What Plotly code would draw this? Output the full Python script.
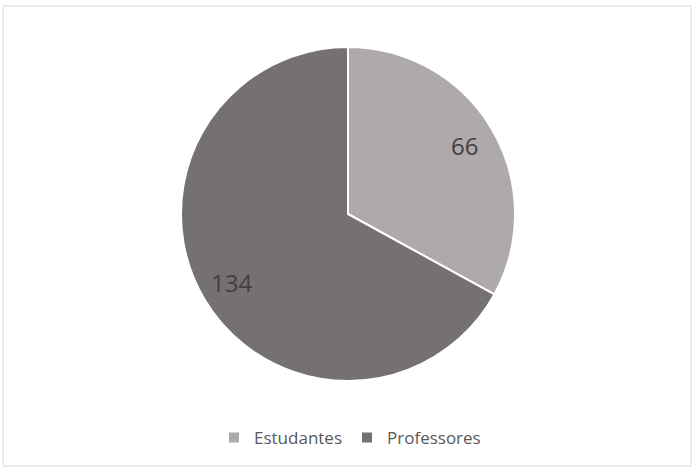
import math
import plotly.graph_objects as go

labels = ["Estudantes", "Professores"]
values = [66, 134]
colors = ["#AEAAAA", "#767171"]

W, H = 700, 470
cx, cy, r = 348, 214, 167  # pie centre and radius in pixels

fig = go.Figure(go.Pie(
    labels=labels, values=values, sort=False, direction="clockwise", rotation=0,
    marker=dict(colors=colors, line=dict(color="white", width=2)),
    textinfo="none",
    domain=dict(x=[(cx - r) / W, (cx + r) / W], y=[1 - (cy + r) / H, 1 - (cy - r) / H]),
    hoverinfo="label+value",
))

# value labels placed along each slice's mid angle, like the Excel data labels
total = sum(values)
start = 0
annotations = []
for v in values:
    mid = (start + v / 2) / total * 2 * math.pi
    start += v
    annotations.append(dict(
        x=(cx + 0.81 * r * math.sin(mid)) / W, y=1 - (cy - 0.81 * r * math.cos(mid)) / H,
        xref="paper", yref="paper", xanchor="center", yanchor="middle",
        text=str(v), showarrow=False,
        font=dict(size=24, color="#404040", family="Open Sans")))

fig.update_layout(
    width=W, height=H, margin=dict(l=0, r=0, t=0, b=0),
    paper_bgcolor="white", plot_bgcolor="white",
    font=dict(family="Open Sans", color="#595959"),
    annotations=annotations,
    legend=dict(orientation="h", x=0.5, xanchor="center", y=1 - 438 / H, yanchor="middle",
                font=dict(size=17, color="#595959"), itemwidth=30),
    shapes=[dict(type="rect", xref="paper", yref="paper",
                 x0=3 / W, x1=691 / W, y0=1 - 466 / H, y1=1 - 6 / H,
                 line=dict(color="#D9D9D9", width=1))],
)

fig.write_html("out.html", config={"displayModeBar": False},
               post_script="document.body.style.margin='0';")
